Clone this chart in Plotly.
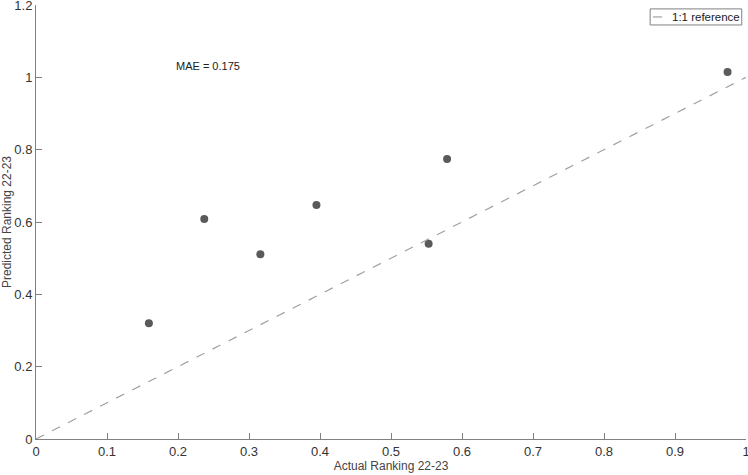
import plotly.graph_objects as go

actual = [0.159, 0.237, 0.316, 0.395, 0.553, 0.579, 0.974]
predicted = [0.320, 0.608, 0.511, 0.647, 0.540, 0.774, 1.015]
ref_line = [0, 1]
x_ticks = [0, 0.1, 0.2, 0.3, 0.4, 0.5, 0.6, 0.7, 0.8, 0.9, 1]
x_ticklabels = ["0", "0.1", "0.2", "0.3", "0.4", "0.5", "0.6", "0.7", "0.8", "0.9", "1"]
y_ticks = [0, 0.2, 0.4, 0.6, 0.8, 1, 1.2]
y_ticklabels = ["0", "0.2", "0.4", "0.6", "0.8", "1", "1.2"]
mae_text = "MAE = 0.175"
legend_label = "1:1 reference"

REF_COLOR = "#a0a0a0"

fig = go.Figure()
fig.add_trace(go.Scatter(x=actual, y=predicted, mode="markers",
                         marker=dict(color="#5a5a5a", size=8),
                         showlegend=False, hoverinfo="x+y"))
fig.add_trace(go.Scatter(x=ref_line, y=ref_line, mode="lines",
                         line=dict(color=REF_COLOR, width=1.2, dash="dash"),
                         name=legend_label, showlegend=False))

fig.add_annotation(x=0.242, y=1.03, xref="x", yref="y", text=mae_text,
                   showarrow=False, font=dict(size=11, color="#222222"))

# legend box (drawn manually for a compact, MATLAB-like look)
fig.add_shape(type="rect", xref="paper", yref="paper",
              x0=0.865, x1=0.994, y0=0.954, y1=0.991,
              line=dict(color="#808080", width=1), fillcolor="white", layer="above")
fig.add_shape(type="line", xref="paper", yref="paper",
              x0=0.869, x1=0.889, y0=0.9725, y1=0.9725,
              line=dict(color=REF_COLOR, width=1.2, dash="dash"), layer="above")
fig.add_annotation(x=0.893, y=0.9725, xref="paper", yref="paper", text=legend_label,
                   xanchor="left", yanchor="middle", showarrow=False,
                   font=dict(size=11.5, color="#222222"))

axis_common = dict(showline=True, linecolor="#808080", linewidth=1,
                   ticks="inside", ticklen=6, tickcolor="#808080",
                   showgrid=False, zeroline=False,
                   tickfont=dict(size=13, color="#333333"),
                   ticklabeloverflow="allow", automargin=False,
                   mirror=False)

fig.update_xaxes(range=[0, 1], tickvals=x_ticks, ticktext=x_ticklabels,
                 title=dict(text="Actual Ranking 22-23", font=dict(size=12, color="#444444"), standoff=2),
                 **axis_common)
fig.update_yaxes(range=[0, 1.2], tickvals=y_ticks, ticktext=y_ticklabels,
                 title=dict(text="Predicted Ranking 22-23", font=dict(size=12, color="#444444"), standoff=2),
                 **axis_common)

fig.update_layout(
    width=748, height=475,
    margin=dict(l=36, r=2, t=5, b=36),
    plot_bgcolor="white", paper_bgcolor="white",
    font=dict(family="Liberation Sans, Arial, sans-serif"),
    showlegend=False,
)

fig.write_html("out.html")
